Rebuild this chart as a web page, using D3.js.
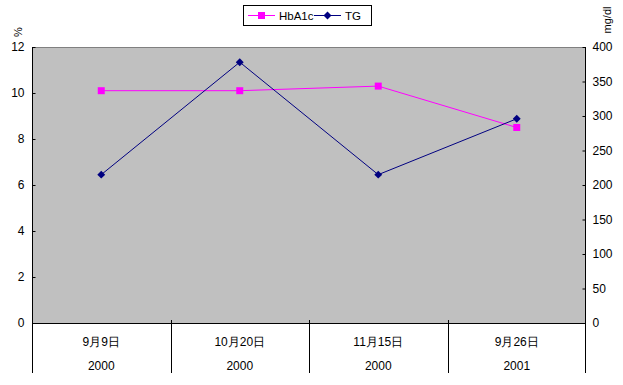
<!DOCTYPE html>
<html>
<head>
<meta charset="utf-8">
<script src="https://cdn.jsdelivr.net/npm/d3@7"></script>
<style>
  body { margin: 0; background: #fff; }
  svg text { font-family: "Liberation Sans", Arial, sans-serif; font-size: 12px; fill: #000; }
</style>
</head>
<body>
<div id="chart"></div>
<script>
// Data
const dates = ["9月9日", "10月20日", "11月15日", "9月26日"];
const years = ["2000", "2000", "2000", "2001"];
const hba1c = [10.1, 10.1, 10.3, 8.5];
const tg = [215, 378, 215, 296];
const leftTicks = [0, 2, 4, 6, 8, 10, 12];
const rightTicks = [0, 50, 100, 150, 200, 250, 300, 350, 400];

const W = 623, H = 385;
const plot = {left: 32, right: 586, top: 47, bottom: 323};

const svg = d3.select("#chart")
    .append("svg")
    .attr("width", W)
    .attr("height", H);

const x = d3.scaleBand()
    .domain(d3.range(dates.length))
    .range([plot.left, plot.right]);

const yLeft = d3.scaleLinear().domain([0, 12]).range([plot.bottom, plot.top]);
const yRight = d3.scaleLinear().domain([0, 400]).range([plot.bottom, plot.top]);

// Plot area background
svg.append("rect")
    .attr("x", plot.left)
    .attr("y", plot.top)
    .attr("width", plot.right - plot.left)
    .attr("height", plot.bottom - plot.top)
    .attr("fill", "#c0c0c0");

svg.append("line")
    .attr("x1", plot.left).attr("x2", plot.right)
    .attr("y1", plot.top + 0.5).attr("y2", plot.top + 0.5)
    .attr("stroke", "#808080");

// Left axis (ticks pointing into the plot)
const leftAxis = svg.append("g")
    .attr("transform", `translate(${plot.left + 0.5},0)`)
    .call(d3.axisRight(yLeft).tickValues(leftTicks).tickSize(3).tickFormat(d3.format("d")));
leftAxis.select(".domain").remove();
leftAxis.selectAll("text").attr("x", -8).style("text-anchor", "end");
leftAxis.selectAll("line").attr("stroke", "#000");

// Right axis
const rightAxis = svg.append("g")
    .attr("transform", `translate(${plot.right - 0.5},0)`)
    .call(d3.axisLeft(yRight).tickValues(rightTicks).tickSize(3).tickFormat(d3.format("d")));
rightAxis.select(".domain").remove();
rightAxis.selectAll("text").attr("x", 7).style("text-anchor", "start");
rightAxis.selectAll("line").attr("stroke", "#000");

// Axis lines and category frame
const axisBottom = 373;
svg.append("line")
    .attr("x1", plot.left + 0.5).attr("x2", plot.left + 0.5)
    .attr("y1", plot.top).attr("y2", axisBottom)
    .attr("stroke", "#000");
svg.append("line")
    .attr("x1", plot.right - 0.5).attr("x2", plot.right - 0.5)
    .attr("y1", plot.top).attr("y2", axisBottom)
    .attr("stroke", "#000");
svg.append("line")
    .attr("x1", plot.left).attr("x2", plot.right)
    .attr("y1", plot.bottom + 0.5).attr("y2", plot.bottom + 0.5)
    .attr("stroke", "#000");

// Category separators
svg.selectAll(".sep")
    .data(d3.range(1, dates.length))
    .enter().append("line")
    .attr("class", "sep")
    .attr("x1", i => Math.round(x(i)) + 0.5)
    .attr("x2", i => Math.round(x(i)) + 0.5)
    .attr("y1", plot.bottom - 3)
    .attr("y2", axisBottom)
    .attr("stroke", "#000");

// Category labels
svg.selectAll(".date")
    .data(dates)
    .enter().append("text")
    .attr("x", (d, i) => x(i) + x.bandwidth() / 2)
    .attr("y", 346)
    .style("text-anchor", "middle")
    .text(d => d);

svg.selectAll(".year")
    .data(years)
    .enter().append("text")
    .attr("x", (d, i) => x(i) + x.bandwidth() / 2)
    .attr("y", 370)
    .style("text-anchor", "middle")
    .text(d => d);

// Unit labels
svg.append("text")
    .attr("transform", "translate(22,32) rotate(-90)")
    .style("text-anchor", "middle")
    .style("font-size", "11px")
    .text("%");

svg.append("text")
    .attr("transform", "translate(611,20) rotate(-90)")
    .style("text-anchor", "middle")
    .style("font-size", "11px")
    .text("mg/dl");

const cx = i => x(i) + x.bandwidth() / 2;

// HbA1c line
svg.append("path")
    .datum(hba1c)
    .attr("fill", "none")
    .attr("stroke", "#ff00ff")
    .attr("stroke-width", 1)
    .attr("d", d3.line().x((d, i) => cx(i)).y(d => yLeft(d)));

svg.selectAll(".sq")
    .data(hba1c)
    .enter().append("rect")
    .attr("x", (d, i) => cx(i) - 3.5)
    .attr("y", d => yLeft(d) - 3.5)
    .attr("width", 7)
    .attr("height", 7)
    .attr("fill", "#ff00ff");

// TG line
svg.append("path")
    .datum(tg)
    .attr("fill", "none")
    .attr("stroke", "#000080")
    .attr("stroke-width", 1)
    .attr("d", d3.line().x((d, i) => cx(i)).y(d => yRight(d)));

const diamond = d3.symbol().type(d3.symbolDiamond2).size(40);
svg.selectAll(".dm")
    .data(tg)
    .enter().append("path")
    .attr("transform", (d, i) => `translate(${cx(i)},${yRight(d)})`)
    .attr("d", diamond)
    .attr("fill", "#000080");

// Legend
const legend = svg.append("g");
legend.append("rect")
    .attr("x", 243.5).attr("y", 5.5)
    .attr("width", 128).attr("height", 20)
    .attr("fill", "#fff")
    .attr("stroke", "#000");

legend.append("line")
    .attr("x1", 248).attr("x2", 275).attr("y1", 15.5).attr("y2", 15.5)
    .attr("stroke", "#ff00ff");
legend.append("rect")
    .attr("x", 258).attr("y", 12).attr("width", 7).attr("height", 7)
    .attr("fill", "#ff00ff");
legend.append("text")
    .attr("x", 279).attr("y", 20)
    .style("font-size", "11.5px")
    .text("HbA1c");

legend.append("line")
    .attr("x1", 314).attr("x2", 341).attr("y1", 15.5).attr("y2", 15.5)
    .attr("stroke", "#000080");
legend.append("path")
    .attr("transform", "translate(327.5,15.5)")
    .attr("d", diamond)
    .attr("fill", "#000080");
legend.append("text")
    .attr("x", 345).attr("y", 20)
    .style("font-size", "11.5px")
    .text("TG");
</script>
</body>
</html>
